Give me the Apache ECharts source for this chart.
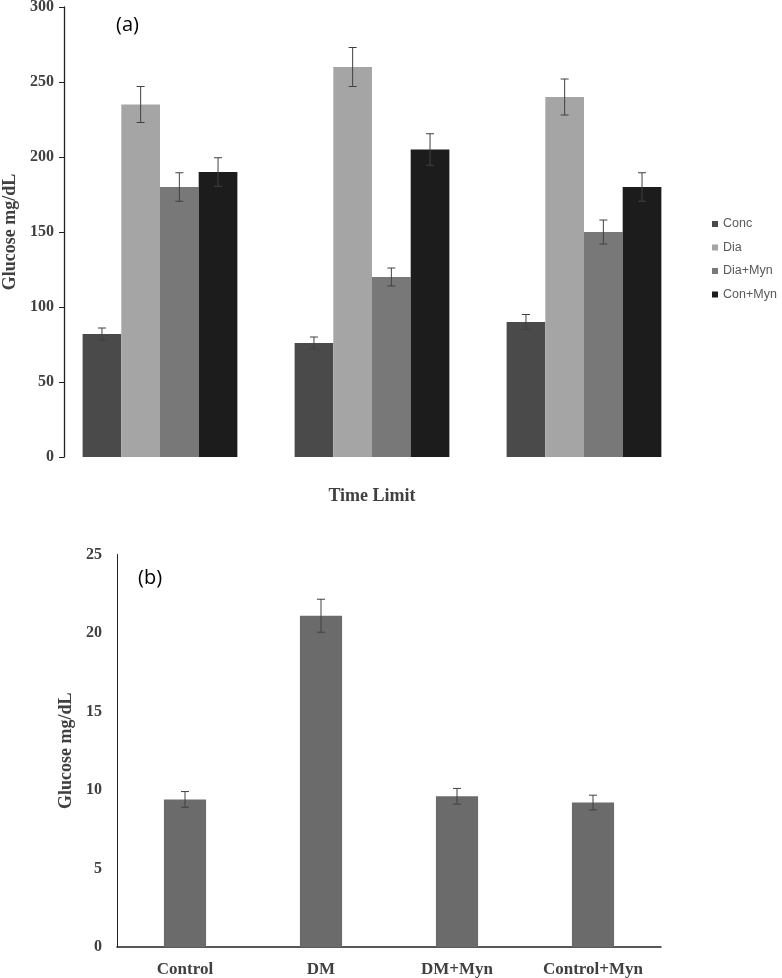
<!DOCTYPE html>
<html>
<head>
<meta charset="utf-8">
<script src="https://cdn.jsdelivr.net/npm/echarts@6/dist/echarts.min.js"></script>
<style>html,body{margin:0;padding:0;background:#fff;}#c{width:782px;height:978px;}</style>
</head>
<body>
<div id="c"></div>
<script>
// ---- Chart (a) data ----
const catsA = ['T1', 'T2', 'T3'];
const namesA = ['Conc', 'Dia', 'Dia+Myn', 'Con+Myn'];
const concVals = [82, 76, 90];
const concErr = [4, 4, 5];
const diaVals = [235, 260, 240];
const diaErr = [12, 13, 12];
const diaMynVals = [180, 120, 150];
const diaMynErr = [9.5, 6, 8];
const conMynVals = [190, 205, 180];
const conMynErr = [9.5, 10.5, 9.5];
const yTicksA = [0, 300, 50]; // min, max, interval

// ---- Chart (b) data ----
const catsB = ['Control', 'DM', 'DM+Myn', 'Control+Myn'];
const valsB = [9.4, 21.1, 9.6, 9.2];
const errB = [0.5, 1.05, 0.5, 0.47];
const yTicksB = [0, 25, 5];

const colorsA = ['#4a4a4a', '#a5a5a5', '#787878', '#1c1c1c'];
const valsA = [concVals, diaVals, diaMynVals, conMynVals];
const errsA = [concErr, diaErr, diaMynErr, conMynErr];
const catGapA = 0.27;
const barFracB = 0.31;
const errColor = '#404040';

function errRender(j, n, frac) {
  return function (params, api) {
    const i = api.value(0), v = api.value(1), e = api.value(2);
    const c = api.coord([i, v]);
    const band = api.size([1, 0])[0];
    const bw = band * frac / n;
    const x = c[0] + (j - (n - 1) / 2) * bw;
    const top = api.coord([i, v + e])[1];
    const bot = api.coord([i, v - e])[1];
    const cap = 4;
    const st = { stroke: errColor, lineWidth: 1 };
    return { type: 'group', children: [
      { type: 'line', shape: { x1: x, y1: top, x2: x, y2: bot }, style: st },
      { type: 'line', shape: { x1: x - cap, y1: top, x2: x + cap, y2: top }, style: st },
      { type: 'line', shape: { x1: x - cap, y1: bot, x2: x + cap, y2: bot }, style: st }
    ]};
  };
}

const labelFont = { fontFamily: 'Liberation Serif', fontWeight: 'bold', fontSize: 16, color: '#404040' };
const titleFont = { fontFamily: 'Liberation Serif', fontWeight: 'bold', fontSize: 18, color: '#404040' };

const series = [];
namesA.forEach((nm, j) => {
  series.push({
    name: nm, type: 'bar', xAxisIndex: 0, yAxisIndex: 0,
    data: valsA[j], barGap: '0%', barCategoryGap: (catGapA * 100) + '%',
    itemStyle: { color: colorsA[j] }, silent: true
  });
});
namesA.forEach((nm, j) => {
  series.push({
    name: 'err-' + nm, type: 'custom', xAxisIndex: 0, yAxisIndex: 0, z: 5,
    data: catsA.map((c, i) => [i, valsA[j][i], errsA[j][i]]),
    renderItem: errRender(j, 4, 1 - catGapA), silent: true
  });
});
series.push({
  name: 'Glucose', type: 'bar', xAxisIndex: 1, yAxisIndex: 1,
  data: valsB, barWidth: (barFracB * 100) + '%',
  itemStyle: { color: '#6b6b6b' }, silent: true
});
series.push({
  name: 'err-Glucose', type: 'custom', xAxisIndex: 1, yAxisIndex: 1, z: 5,
  data: catsB.map((c, i) => [i, valsB[i], errB[i]]),
  renderItem: errRender(0, 1, barFracB), silent: true
});

const chart = echarts.init(document.getElementById('c'), null, { renderer: 'canvas' });
chart.setOption({
  animation: false,
  backgroundColor: '#fff',
  legend: {
    data: namesA, orient: 'vertical', left: 707, top: 212,
    icon: 'rect', itemWidth: 6, itemHeight: 6, itemGap: 9.5,
    textStyle: { fontFamily: 'Liberation Sans', fontSize: 12.5, color: '#595959', lineHeight: 14 },
    selectedMode: false
  },
  grid: [
    { left: 54, top: 7, width: 636, height: 450, containLabel: false, outerBoundsMode: 'none' },
    { left: 117, top: 554.5, width: 544, height: 392.5, containLabel: false, outerBoundsMode: 'none' }
  ],
  xAxis: [
    { type: 'category', gridIndex: 0, data: catsA,
      axisLine: { show: false }, axisTick: { show: false }, axisLabel: { show: false },
      name: 'Time Limit', nameLocation: 'middle', nameGap: 30, nameTextStyle: titleFont },
    { type: 'category', gridIndex: 1, data: catsB,
      axisLine: { show: true, lineStyle: { color: '#222', width: 1.5 } },
      axisTick: { show: false },
      axisLabel: Object.assign({}, labelFont, { margin: 14, fontSize: 17 }) }
  ],
  yAxis: [
    { type: 'value', gridIndex: 0, min: yTicksA[0], max: yTicksA[1], interval: yTicksA[2], offset: -10,
      axisLine: { show: true, lineStyle: { color: '#222', width: 1.3 } },
      axisTick: { show: true, length: 5, lineStyle: { color: '#222' } },
      splitLine: { show: false },
      axisLabel: Object.assign({ margin: 10 }, labelFont),
      name: 'Glucose mg/dL', nameLocation: 'middle', nameGap: 45, nameTextStyle: titleFont },
    { type: 'value', gridIndex: 1, min: yTicksB[0], max: yTicksB[1], interval: yTicksB[2],
      axisLine: { show: true, lineStyle: { color: '#222', width: 1 } },
      axisTick: { show: false },
      splitLine: { show: false },
      axisLabel: Object.assign({ margin: 15 }, labelFont),
      name: 'Glucose mg/dL', nameLocation: 'middle', nameGap: 38, nameTextStyle: titleFont }
  ],
  graphic: [
    { type: 'text', left: 116, top: 15, style: { text: '(a)', font: '20px "Open Sans", sans-serif', fill: '#000' } },
    { type: 'text', left: 138, top: 568, style: { text: '(b)', font: '20px "Open Sans", sans-serif', fill: '#000' } }
  ],
  series: series
});
</script>
</body>
</html>
